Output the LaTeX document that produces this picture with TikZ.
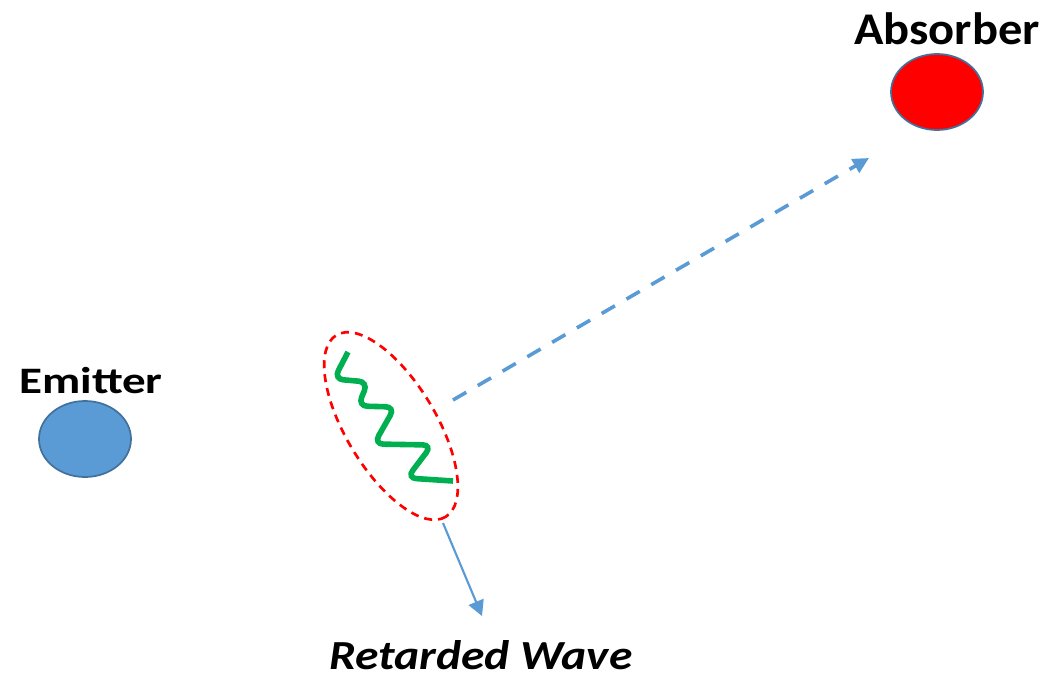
\documentclass[tikz,border=0pt]{standalone}
\usepackage{fontspec}
\setmainfont{Carlito}
\usetikzlibrary{arrows.meta}
\definecolor{eblue}{HTML}{5B9BD5}
\definecolor{eedge}{HTML}{41719C}
\definecolor{wgreen}{HTML}{00B050}
\tikzset{
  lbl/.style={anchor=base, inner sep=0pt, font=\bfseries\fontsize{28}{30}\selectfont},
  dashlink/.style={draw=eblue, line width=2.7pt, dash pattern=on 11.5pt off 10pt, -{Triangle[length=12pt,width=11.5pt]}},
  thinlink/.style={draw=eblue, line width=1.6pt, -{Triangle[length=11.5pt,width=12pt]}},
  packet/.style={draw=red, line width=2pt, dash pattern=on 6pt off 4.5pt},
  wave/.style={draw=wgreen, line width=4.2pt, rounded corners=7pt},
  ballrim/.style={draw=eedge, line width=1.3pt},
}
\begin{document}
\begin{tikzpicture}[x=0.75pt,y=-0.75pt]
\useasboundingbox (0,0) rectangle (1043,678);
% balls
\coordinate (emitter) at (85,439);
\fill[eblue] (emitter) ellipse [x radius=46, y radius=38];
\draw[ballrim] (emitter) ellipse [x radius=46, y radius=38];
\coordinate (absorber) at (937,92);
\fill[red] (absorber) ellipse [x radius=46, y radius=38];
\draw[ballrim] (absorber) ellipse [x radius=46, y radius=38];
% labels
\node[lbl, xscale=1.26] (emlbl) at (91,393) {Emitter};
\node[lbl, xscale=1.07, font=\bfseries\fontsize{34}{36}\selectfont] (ablbl) at (947,44) {Absorber};
\node[lbl, xscale=1.15, font=\bfseries\itshape\fontsize{31}{33}\selectfont] (rwlbl) at (481,669) {Retarded Wave};
% packet
\coordinate (pc) at (391,426);
\draw[packet, rotate around={-59:(pc)}] (pc) ellipse [x radius=106, y radius=45];
\draw[wave]
  (348,352) -- (334,379) -- (368,382) -- (358,406) -- (395,407) -- (374,444) -- (432,445) -- (407,478) -- (453,481);
% arrows
\coordinate (dstart) at (453,400);
\coordinate (dend) at (869,158);
\draw[dashlink] (dstart) -- (dend);
\coordinate (tstart) at (443,523);
\coordinate (tend) at (482,616);
\draw[thinlink] (tstart) -- (tend);
\end{tikzpicture}
\end{document}
